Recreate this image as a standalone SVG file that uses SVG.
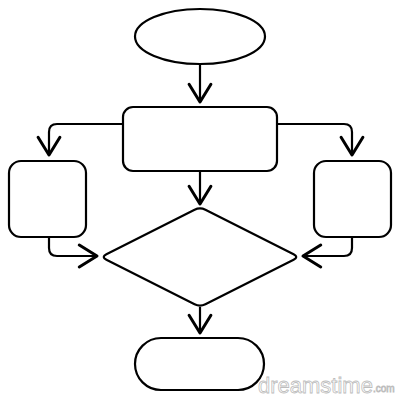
<svg xmlns="http://www.w3.org/2000/svg" width="400" height="400" viewBox="0 0 400 400">
<style>
.n{fill:#fff;stroke:#000;stroke-width:2.2}
.c{fill:none;stroke:#000;stroke-width:2.2;marker-end:url(#ah)}
.wm{font-family:"Liberation Sans",Arial,sans-serif;fill:#fff;stroke:#bdbdbd;stroke-width:0.8}
</style>
<defs>
<marker id="ah" markerUnits="userSpaceOnUse" markerWidth="30" markerHeight="30" viewBox="-16 -11 20 22" refX="0" refY="0" orient="auto">
<path d="M-13,-8 L0,0 L-13,8" fill="none" stroke="#000" stroke-width="2.2" stroke-linecap="round" stroke-linejoin="round"/>
</marker>
</defs>
<rect width="400" height="400" fill="#fff"/>
<g id="connectors">
<path class="c" d="M200,64 V102"/>
<path class="c" d="M123,124 H57 Q49,124 49,132 V155"/>
<path class="c" d="M277,124 H344 Q352,124 352,132 V155"/>
<path class="c" d="M49,237 V248 Q49,256 57,256 H97"/>
<path class="c" d="M352,237 V248 Q352,256 344,256 H303"/>
<path class="c" d="M200,171 V204"/>
<path class="c" d="M200,307 V333"/>
</g>
<g id="start"><ellipse class="n" cx="200" cy="36.5" rx="65" ry="27.5"/></g>
<g id="process"><rect class="n" x="123" y="107" width="154" height="64" rx="10"/></g>
<g id="left"><rect class="n" x="9" y="161" width="77" height="76" rx="12"/></g>
<g id="right"><rect class="n" x="314" y="161" width="77" height="76" rx="12"/></g>
<g id="decision"><path class="n" d="M106.4,254.3 L194.6,209.7 Q200,207 205.4,209.7 L293.6,254.3 Q299,257 293.6,259.7 L205.4,304.3 Q200,307 194.6,304.3 L106.4,259.7 Q101,257 106.4,254.3 Z"/></g>
<g id="end"><rect class="n" x="135" y="338" width="129" height="52" rx="26"/></g>
<text class="wm" x="258" y="393" font-size="22">dreamstime<tspan font-size="10" dy="-1">.com</tspan></text>
</svg>
